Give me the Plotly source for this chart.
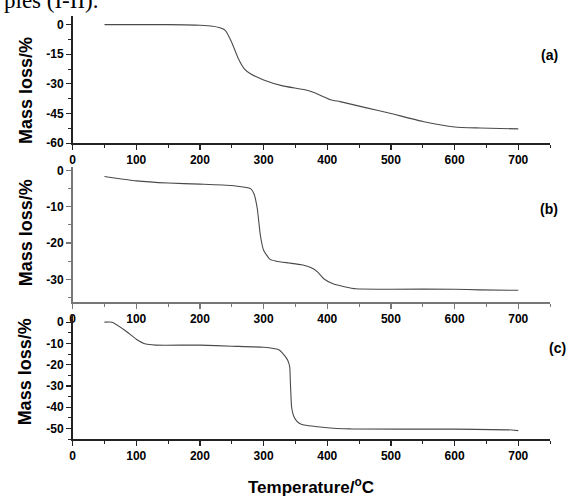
import plotly.graph_objects as go

W, H = 568, 501

# ---- data ----
temp_a = [50, 100, 150, 200, 220, 230, 240, 250, 260, 270, 280, 300, 330, 365, 380, 405, 420, 460, 500, 550, 600, 640, 700]
loss_a = [0, 0, 0, -0.3, -0.8, -1.5, -3, -9, -17, -22.5, -25, -28, -31, -33, -34.5, -38, -39, -42, -45, -49, -51.8, -52.3, -52.8]

temp_b = [50, 100, 150, 200, 250, 280, 285, 290, 295, 300, 310, 320, 340, 360, 375, 385, 395, 410, 445, 500, 600, 640, 700]
loss_b = [-1.7, -2.9, -3.5, -3.8, -4.2, -5.1, -6.5, -10.5, -18, -22, -24.5, -25, -25.5, -26, -26.8, -28, -29.9, -31.3, -32.6, -32.7, -32.7, -32.9, -33]

temp_c = [50, 62, 83, 100, 115, 130, 200, 250, 300, 323, 333, 338, 341, 342, 344, 347, 352, 359, 396, 437, 600, 690, 700]
loss_c = [0, 0, -4, -8, -10.3, -10.8, -10.8, -11.3, -11.8, -12.9, -15.7, -18, -21, -28, -40, -44, -46.5, -48, -49.5, -50.2, -50.3, -50.7, -51]

x_ticks = [0, 100, 200, 300, 400, 500, 600, 700]
x_ticklabels = ["0", "100", "200", "300", "400", "500", "600", "700"]

y_ticks_a = [0, -15, -30, -45, -60]
y_ticklabels_a = ["0", "-15", "-30", "-45", "-60"]
y_ticks_b = [0, -10, -20, -30]
y_ticklabels_b = ["0", "-10", "-20", "-30"]
y_ticks_c = [0, -10, -20, -30, -40, -50]
y_ticklabels_c = ["0", "-10", "-20", "-30", "-40", "-50"]

panel_labels = ["(a)", "(b)", "(c)"]
y_title = "Mass loss/%"
x_title = "Temperature/<sup>o</sup>C"
caption = "ples (I-II)."

# ---- layout helpers (pixel -> paper) ----
def px(x):
    return x / W

def py(y):
    return 1 - y / H

x_dom = [px(70), px(550)]
panels = [
    dict(bot=143, top=13, rng=[-60, 4.5], tv=y_ticks_a, tt=y_ticklabels_a, minor=7.5, col="#222222", ly=53, ty=89),
    dict(bot=305, top=167, rng=[-36.2, 1], tv=y_ticks_b, tt=y_ticklabels_b, minor=5, col="#777777", ly=210, ty=234),
    dict(bot=445, top=317, rng=[-55, 4], tv=y_ticks_c, tt=y_ticklabels_c, minor=5, col="#222222", ly=352, ty=376),
]
label_x = [549, 549, 557]

fig = go.Figure()
series = [(temp_a, loss_a), (temp_b, loss_b), (temp_c, loss_c)]

tick_font = dict(family="Liberation Sans, Arial, sans-serif", size=12, color="black")
title_font = dict(family="Liberation Sans, Arial, sans-serif", size=18, color="black")

annotations = []
for i, (p, (tx, ly)) in enumerate(zip(panels, series)):
    n = "" if i == 0 else str(i + 1)
    fig.add_trace(go.Scatter(
        x=tx, y=ly, mode="lines",
        line=dict(color="#4a4a4a", width=1.1, shape="spline", smoothing=0.5),
        xaxis="x" + n, yaxis="y" + n, showlegend=False, hoverinfo="skip"))
    xa = dict(
        domain=x_dom, range=[0, 750], anchor="y" + n,
        tickvals=x_ticks, ticktext=["<b>%s</b>" % t for t in x_ticklabels],
        ticks="outside", ticklen=5, tickwidth=1.2, tickcolor=p["col"],
        minor=dict(dtick=50, tick0=0, ticks="outside", ticklen=3, tickwidth=1, tickcolor=p["col"]),
        showline=True, linecolor=p["col"], linewidth=1.6,
        showgrid=False, zeroline=False, tickfont=tick_font, fixedrange=True)
    ya = dict(
        domain=[py(p["bot"]), py(p["top"])], range=p["rng"], anchor="x" + n,
        tickvals=p["tv"], ticktext=["<b>%s</b>" % t for t in p["tt"]],
        ticks="outside", ticklen=5, tickwidth=1.2, tickcolor=p["col"],
        minor=dict(dtick=p["minor"], tick0=0, ticks="outside", ticklen=3, tickwidth=1, tickcolor=p["col"]),
        showline=True, linecolor=p["col"], linewidth=1.6,
        showgrid=False, zeroline=False, tickfont=tick_font, fixedrange=True)
    fig.update_layout(**{"xaxis" + n: xa, "yaxis" + n: ya})

    annotations.append(dict(
        text="<b>%s</b>" % y_title, x=px(23), y=py(p["ty"]), xref="paper", yref="paper",
        textangle=-90, showarrow=False, font=title_font, xanchor="center", yanchor="middle"))
    annotations.append(dict(
        text="<b>%s</b>" % panel_labels[i], x=px(label_x[i]), y=py(p["ly"]), xref="paper", yref="paper",
        showarrow=False, font=dict(family="Liberation Sans, Arial, sans-serif", size=14, color="black"),
        xanchor="center", yanchor="middle"))

annotations.append(dict(
    text="<b>%s</b>" % x_title, x=px(310), y=py(493), xref="paper", yref="paper",
    showarrow=False, font=dict(family="Liberation Sans, Arial, sans-serif", size=17, color="black"),
    xanchor="center", yanchor="middle"))
annotations.append(dict(
    text=caption, x=px(-1), y=py(12), xref="paper", yref="paper",
    showarrow=False, font=dict(family="Liberation Serif, Times New Roman, serif", size=23, color="black"),
    xanchor="left", yanchor="bottom"))

fig.update_layout(
    width=W, height=H,
    margin=dict(l=0, r=0, t=0, b=0),
    paper_bgcolor="white", plot_bgcolor="white",
    annotations=annotations,
)

fig.write_html(
    "out.html",
    config={"displayModeBar": False, "staticPlot": True},
    post_script="document.body.style.margin='0';document.body.style.padding='0';document.body.style.overflow='hidden';",
)
